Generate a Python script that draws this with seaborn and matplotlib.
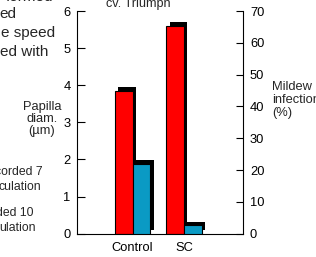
import pandas as pd
import matplotlib.pyplot as plt
import matplotlib.transforms as mtransforms
import seaborn as sns

groups = ['Control', 'SC']
papilla = [3.85, 5.6]      # papilla diameter (um), left axis
mildew = [22.0, 2.6]       # mildew infection (%), right axis
left_ticks = [0, 1, 2, 3, 4, 5, 6]
right_ticks = [0, 10, 20, 30, 40, 50, 60, 70]

measures = ['papilla', 'mildew']
colors = {'papilla': '#ff0000', 'mildew': '#0a9ac4'}
shadow = {'papilla': 'black', 'mildew': 'black'}

df_pap = pd.DataFrame({'group': groups, 'measure': 'papilla', 'value': papilla})
df_mil = pd.DataFrame({'group': groups, 'measure': 'mildew', 'value': mildew})

sns.set_style('white')
plt.rcParams['font.family'] = ['Liberation Sans', 'DejaVu Sans']

W, H = 316, 257
fig = plt.figure(figsize=(W / 100, H / 100), dpi=100)
ax1 = fig.add_axes([77 / W, 1 - 233.7 / H, (243 - 77) / W, (233.7 - 11) / H])
ax2 = ax1.twinx()

off = mtransforms.ScaledTranslation(3.5 / 100, 3.5 / 100, fig.dpi_scale_trans)


def bars(ax, data):
    # shadow first, shifted up-right, then the coloured bars on top
    sns.barplot(data=data, x='group', y='value', hue='measure', hue_order=measures,
                order=groups, palette=shadow, width=0.68, linewidth=0,
                dodge=True, saturation=1, legend=False, ax=ax)
    for p in ax.patches:
        p.set_transform(ax.transData + off)
    sns.barplot(data=data, x='group', y='value', hue='measure', hue_order=measures,
                order=groups, palette=colors, width=0.68, edgecolor='black',
                linewidth=0.8, dodge=True, saturation=1, legend=False, ax=ax)


bars(ax1, df_pap)
bars(ax2, df_mil)

ax1.set_xlim(-1.078, 2.146)
ax1.set_ylim(0, 6)
ax2.set_ylim(0, 70)
ax1.set_yticks(left_ticks)
ax2.set_yticks(right_ticks)
for ax in (ax1, ax2):
    ax.set_xlabel('')
    ax.set_ylabel('')
    ax.spines['top'].set_visible(False)
    for s in ax.spines.values():
        s.set_color('black')
        s.set_linewidth(0.8)
ax1.spines['right'].set_visible(False)
ax2.spines['left'].set_visible(False)
ax2.spines['bottom'].set_visible(False)

ax1.tick_params(axis='y', direction='in', length=5.8, width=0.8, pad=4.5,
                labelsize=9.3, colors='black', left=True)
ax2.tick_params(axis='y', direction='in', length=5.2, width=0.8, pad=5,
                labelsize=9.3, colors='black', right=True)
ax1.tick_params(axis='x', length=0, pad=6, labelsize=9.3, colors='black')


def px(x, y):
    return x / W, 1 - y / H


fig.text(*px(42, 119), 'Papilla\ndiam.\n(µm)', ha='center', va='center',
         fontsize=9.3, linespacing=1.05)
fig.text(*px(272, 100), 'Mildew\ninfection\n(%)', ha='left', va='center',
         fontsize=9.3, linespacing=1.15)
fig.text(*px(138, 7.5), 'cv. Triumph', ha='center', va='baseline', fontsize=9.1)

# caption fragments cut off at the left edge of the figure
for txt, x, y in [('formed', 53, -3), ('ed', 16, 14), ('e speed', 55, 33),
                  ('ed with', 48, 52)]:
    fig.text(*px(x, y), txt, ha='right', va='center', fontsize=11)
for txt, x, y in [('corded 7', 43, 172), ('culation', 41, 187.5),
                  ('ded 10', 34, 212.5), ('ulation', 36, 228)]:
    fig.text(*px(x, y), txt, ha='right', va='center', fontsize=8.8)

fig.savefig('out.png', dpi=100)
